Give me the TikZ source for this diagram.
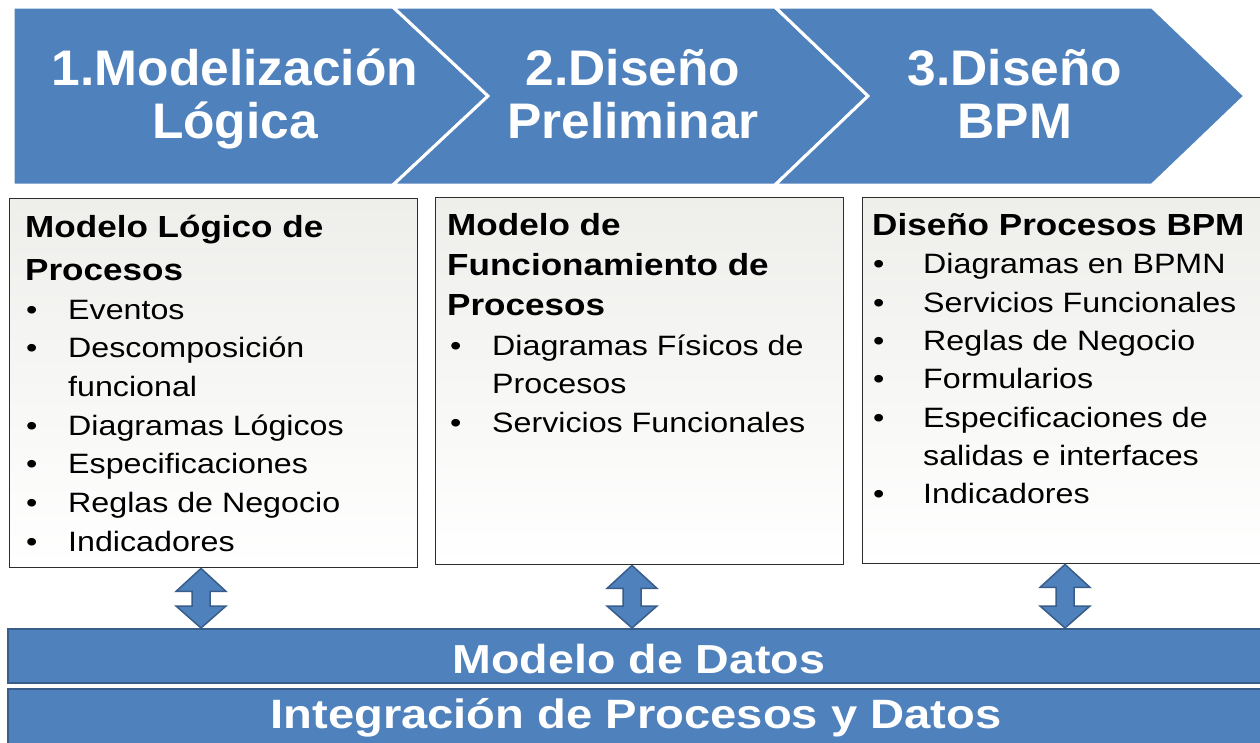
\documentclass[tikz,border=0pt]{standalone}
\usepackage{fontspec}
\setmainfont{Liberation Sans}
\newfontfamily\chevfont[FakeStretch=1.03]{Liberation Sans}
\newfontfamily\sfx[FakeStretch=1.15]{Liberation Sans}
\usetikzlibrary{calc}
\definecolor{ppblue}{RGB}{79,129,189}
\definecolor{ppdark}{RGB}{56,93,138}
\definecolor{boxline}{RGB}{45,45,45}
\definecolor{boxtop}{RGB}{238,238,235}
\begin{document}
\begin{tikzpicture}[x=1pt,y=-1pt,
  chev/.style={fill=ppblue, draw=white, line width=3pt, line join=miter},
  chevtxt/.style={anchor=base, inner sep=0pt, text=white, font=\chevfont\bfseries\fontsize{50}{55}\selectfont},
  infobox/.style={draw=boxline, line width=1.4pt, top color=boxtop, bottom color=white, anchor=north west, inner sep=0pt},
  ttl/.style={anchor=base west, inner sep=0pt, font=\sfx\bfseries\fontsize{30.5}{34}\selectfont},
  itm/.style={anchor=base west, inner sep=0pt, font=\sfx\fontsize{28}{32}\selectfont},
  bar/.style={fill=ppblue, draw=ppdark, line width=2pt, anchor=north west, inner sep=0pt},
  bartxt/.style={anchor=base, inner sep=0pt, text=white, font=\sfx\bfseries\fontsize{41}{45}\selectfont},
  dbl/.style={fill=ppblue, draw=ppdark, line width=1.5pt, line join=miter}
]
\useasboundingbox[fill=white] (0,0) rectangle (1260,742);

% chevrons
\path[chev] (13,7) -- (393,7) -- (488,96) -- (393,185) -- (13,185) -- cycle;
\path[chev] (393,7) -- (775,7) -- (868,96) -- (775,185) -- (393,185) -- (488,96) -- cycle;
\path[chev] (775,7) -- (1152,7) -- (1245,96) -- (1152,185) -- (775,185) -- (868,96) -- cycle;
\node[chevtxt] (c1a) at (235,85) {1.Modelización};
\node[chevtxt] (c1b) at (235,138) {Lógica};
\node[chevtxt] (c2a) at (633,85) {2.Diseño};
\node[chevtxt] (c2b) at (633,138) {Preliminar};
\node[chevtxt] (c3a) at (1015,85) {3.Diseño};
\node[chevtxt] (c3b) at (1015,138) {BPM};

% boxes
\node[infobox, minimum width=408, minimum height=369] (box1) at (9,198) {};
\node[infobox, minimum width=408, minimum height=367] (box2) at (435,197) {};
\node[infobox, minimum width=405, minimum height=366] (box3) at (862,197) {};

% box 1 text
\node[ttl] (t1a) at (25,237) {Modelo Lógico de};
\node[ttl] (t1b) at (25,280) {Procesos};
\node[itm] (b1a) at (26,319) {•}; \node[itm] (i1a) at (68,319) {Eventos};
\node[itm] (b1b) at (26,357) {•}; \node[itm] (i1b) at (68,357) {Descomposición};
\node[itm] (i1c) at (68,396) {funcional};
\node[itm] (b1d) at (26,435) {•}; \node[itm] (i1d) at (68,435) {Diagramas Lógicos};
\node[itm] (b1e) at (26,473) {•}; \node[itm] (i1e) at (68,473) {Especificaciones};
\node[itm] (b1f) at (26,512) {•}; \node[itm] (i1f) at (68,512) {Reglas de Negocio};
\node[itm] (b1g) at (26,551) {•}; \node[itm] (i1g) at (68,551) {Indicadores};

% box 2 text
\node[ttl] (t2a) at (447,235) {Modelo de};
\node[ttl] (t2b) at (447,275) {Funcionamiento de};
\node[ttl] (t2c) at (447,315) {Procesos};
\node[itm] (b2a) at (450,355) {•}; \node[itm] (i2a) at (492,355) {Diagramas Físicos de};
\node[itm] (i2b) at (492,393) {Procesos};
\node[itm] (b2c) at (450,432) {•}; \node[itm] (i2c) at (492,432) {Servicios Funcionales};

% box 3 text
\node[ttl] (t3a) at (872,235) {Diseño Procesos BPM};
\node[itm] (b3a) at (873,273) {•}; \node[itm] (i3a) at (923,273) {Diagramas en BPMN};
\node[itm] (b3b) at (873,312) {•}; \node[itm] (i3b) at (923,312) {Servicios Funcionales};
\node[itm] (b3c) at (873,350) {•}; \node[itm] (i3c) at (923,350) {Reglas de Negocio};
\node[itm] (b3d) at (873,388) {•}; \node[itm] (i3d) at (923,388) {Formularios};
\node[itm] (b3e) at (873,427) {•}; \node[itm] (i3e) at (923,427) {Especificaciones de};
\node[itm] (i3f) at (923,465) {salidas e interfaces};
\node[itm] (b3g) at (873,503) {•}; \node[itm] (i3g) at (923,503) {Indicadores};

% bars
\node[bar, minimum width=1260, minimum height=54] (datos) at (7,628) {};
\node[bar, minimum width=1260, minimum height=62] (integ) at (7,688) {};
\node[bartxt, font=\sfx\bfseries\fontsize{40.5}{45}\selectfont] (datosT) at (639,673) {Modelo de Datos};
\node[bartxt] (integT) at (636,728) {Integración de Procesos y Datos};

% double arrows
\foreach \n/\xx/\bx in {1/201/box1, 2/632/box2, 3/1065/box3}{
  \coordinate (ax\n) at (\xx,0);
  \coordinate (at\n) at (ax\n |- \bx.south);
  \coordinate (ab\n) at (ax\n |- datos.north);
  \draw[dbl] (at\n) -- ($(at\n)+(25,23)$) -- ($(at\n)+(9,23)$) -- ($(ab\n)+(9,-22)$)
    -- ($(ab\n)+(25,-22)$) -- (ab\n) -- ($(ab\n)+(-25,-22)$) -- ($(ab\n)+(-9,-22)$)
    -- ($(at\n)+(-9,23)$) -- ($(at\n)+(-25,23)$) -- cycle;
}
\end{tikzpicture}
\end{document}
